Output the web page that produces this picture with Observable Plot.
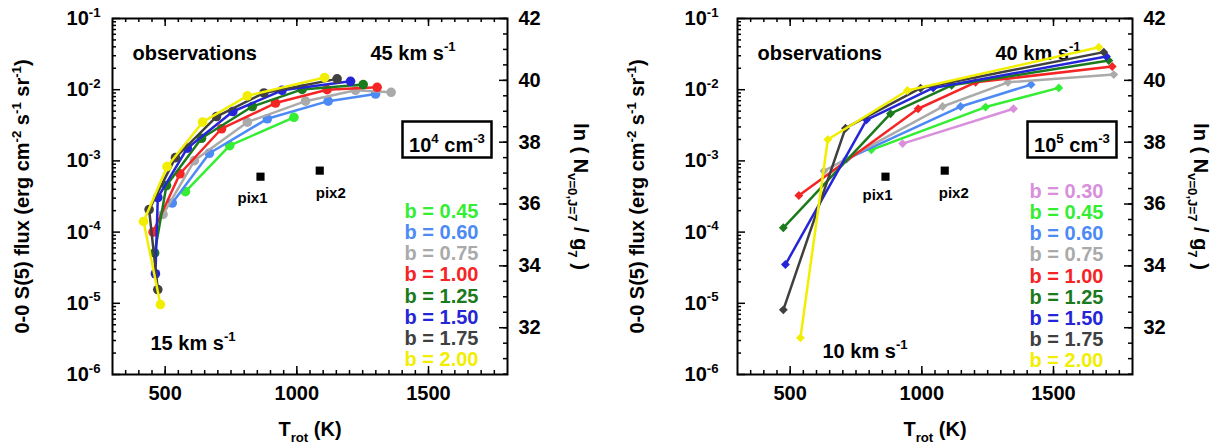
<!DOCTYPE html>
<html><head><meta charset="utf-8">
<script src="https://cdn.jsdelivr.net/npm/d3@7"></script>
<script src="https://cdn.jsdelivr.net/npm/@observablehq/plot@0.6"></script>
<style>
html,body{margin:0;padding:0;background:#fff;}
#wrap{display:flex;width:1224px;height:448px;overflow:hidden;}
svg text{font-family:"Liberation Sans",Arial,Helvetica,sans-serif;font-weight:bold;}
</style></head><body><div id="wrap"></div>
<script>
// ---------- data ----------
const bKeys   = ["0.30","0.45","0.60","0.75","1.00","1.25","1.50","1.75","2.00"];
const bColors = ["#d990dc","#33ee33","#4d8af5","#aaaaaa","#f52525","#1b7a1b","#2525d8","#404040","#f2ee00"];

const leftB    = ["0.45","0.60","0.75","1.00","1.25","1.50","1.75","2.00"];
const leftTrot = [
  [577, 745, 989],
  [527, 668, 888, 1119, 1299],
  [492, 611, 812, 1033, 1223, 1358],
  [454, 556, 714, 919, 1115, 1305],
  [460, 505, 638, 831, 1020, 1252],
  [463, 472, 584, 757, 944, 1204],
  [472, 439, 539, 695, 875, 1153],
  [482, 418, 507, 642, 812, 1105]
];
const leftFlux = [
  [3.7e-4, 1.64e-3, 4.1e-3],
  [2.56e-4, 1.28e-3, 3.9e-3, 6.9e-3, 8.7e-3],
  [1.77e-4, 1.01e-3, 3.5e-3, 6.9e-3, 9.8e-3, 9.2e-3],
  [1.0e-4, 6.6e-4, 2.83e-3, 6.5e-3, 1.0e-2, 1.08e-2],
  [5.1e-5, 4.5e-4, 2.08e-3, 5.8e-3, 1.01e-2, 1.18e-2],
  [2.6e-5, 3.06e-4, 1.51e-3, 4.94e-3, 9.8e-3, 1.31e-2],
  [1.56e-5, 2.07e-4, 1.11e-3, 4.2e-3, 9.0e-3, 1.42e-2],
  [9.6e-6, 1.41e-4, 8.3e-4, 3.5e-3, 8.2e-3, 1.48e-2]
];

const rightB    = ["0.30","0.45","0.60","0.75","1.00","1.25","1.50","1.75","2.00"];
const rightTrot = [
  [927, 1348],
  [808, 1242, 1520],
  [714, 1147, 1415],
  [628, 1079, 1327, 1729],
  [533, 986, 1204, 1723],
  [474, 881, 1113, 1710],
  [482, 790, 1043, 1701],
  [474, 710, 995, 1691],
  [539, 643, 945, 1672]
];
const rightFlux = [
  [1.75e-3, 5.4e-3],
  [1.43e-3, 5.7e-3, 1.06e-2],
  [1.06e-3, 5.8e-3, 1.18e-2],
  [7.2e-4, 5.8e-3, 1.27e-2, 1.63e-2],
  [3.27e-4, 5.4e-3, 1.27e-2, 2.12e-2],
  [1.15e-4, 4.6e-3, 1.15e-2, 2.57e-2],
  [3.5e-5, 3.78e-3, 1.06e-2, 2.92e-2],
  [8.1e-6, 2.88e-3, 1.05e-2, 3.37e-2],
  [3.27e-6, 2.0e-3, 9.75e-3, 3.95e-2]
];

const pixNames = ["pix1", "pix2"];
const pixTrot  = [862, 1087];
const pixFlux  = [6.0e-4, 7.3e-4];

const xMajorTicks  = [500, 1000, 1500];
const xMinorTicks  = d3.range(350, 1800, 50);
const yMajorTicks  = [1e-6, 1e-5, 1e-4, 1e-3, 1e-2, 1e-1];
const yMinorTicks  = [1e-6, 1e-5, 1e-4, 1e-3, 1e-2].flatMap(d => [2,3,4,5,6,7,8,9].map(k => k * d));
const lnMajorTicks = [32, 34, 36, 38, 40, 42];
const lnMinorTicks = d3.range(30.5, 42.01, 0.5);

// ---------- helpers ----------
const lnTop = 42;                       // ln(N/g) at flux 1e-1
const lnToFlux = L => 0.1 * Math.exp(L - lnTop);
const colorOf = b => bColors[bKeys.indexOf(b)];

const W = 395, H = 356;

function panel(o) {
  const marks = [
    Plot.ruleX(xMinorTicks, {x: d => d, insetTop: H - 4, strokeWidth: 1.5}),
    Plot.ruleX(xMinorTicks, {x: d => d, insetBottom: H - 4, strokeWidth: 1.5}),
    Plot.ruleX(xMajorTicks, {x: d => d, insetTop: H - 8, strokeWidth: 1.5}),
    Plot.ruleX(xMajorTicks, {x: d => d, insetBottom: H - 8, strokeWidth: 1.5}),
    Plot.ruleY(yMinorTicks, {y: d => d, insetRight: W - 4, strokeWidth: 1.5}),
    Plot.ruleY(yMajorTicks, {y: d => d, insetRight: W - 8, strokeWidth: 1.5}),
    Plot.ruleY(lnMinorTicks, {y: lnToFlux, insetLeft: W - 4, strokeWidth: 1.5}),
    Plot.ruleY(lnMajorTicks, {y: lnToFlux, insetLeft: W - 8, strokeWidth: 1.5}),
    Plot.frame({stroke: "black", strokeWidth: 2}),
    Plot.axisX({ticks: xMajorTicks, tickSize: 0, tickPadding: 11, fontSize: 20, label: null, tickFormat: d => String(d)}),
    Plot.axisY({anchor: "left", ticks: yMajorTicks, tickSize: 0, tickPadding: o.yPad, fontSize: 20, label: null,
                tickFormat: d => "10^{" + Math.round(Math.log10(d)) + "}"}),
    // right-hand ln(N/g) axis labels
    Plot.text(lnMajorTicks, {y: lnToFlux, text: d => String(d), frameAnchor: "right", textAnchor: "start", dx: 11, fontSize: 20}),
    Plot.text(["0-0 S(5) flux (erg cm^{-2} s^{-1} sr^{-1})"], {text: d => d, frameAnchor: "left", textAnchor: "middle", rotate: -90, dx: o.yTitleDx, fontSize: 20}),
    Plot.text(["ln ( N_{v=0,J=7} / g_{7} )"], {text: d => d, frameAnchor: "right", textAnchor: "middle", rotate: 90, dx: o.lnTitleDx, fontSize: 20}),
    Plot.text(["T_{rot} (K)"], {text: d => d, frameAnchor: "bottom", textAnchor: "middle", dy: 61, fontSize: 20}),
    Plot.text(["observations"], {text: d => d, frameAnchor: "top-left", textAnchor: "start", dx: 20, dy: 27, fontSize: 20}),
    Plot.text([o.topSpeed], {text: d => d, frameAnchor: "top-left", textAnchor: "start", dx: 258, dy: 27, fontSize: 20}),
    Plot.text([o.bottomSpeed], {text: d => d, frameAnchor: "top-left", textAnchor: "start", dx: o.bsDx, dy: o.bsDy, fontSize: 20}),
    Plot.frame({insetLeft: 290, insetRight: 16, insetTop: 103, insetBottom: H - 139, stroke: "black", strokeWidth: 2.5, fill: "white"}),
    Plot.text([o.density], {text: d => d, frameAnchor: "top-left", textAnchor: "middle", dx: 334.5, dy: 119, fontSize: 20})
  ];
  // legend
  o.bList.forEach((b, i) => {
    marks.push(Plot.text(["b = " + b], {text: d => d, frameAnchor: "top-left", textAnchor: "start",
      dx: 292, dy: o.legendTop + i * 21.2, fontSize: 20, fill: colorOf(b)}));
  });
  // series
  o.bList.forEach((b, i) => {
    const rows = o.T[i].map((t, j) => ({b, T: t, F: o.F[i][j]}));
    marks.push(Plot.line(rows, {x: "T", y: "F", stroke: colorOf(b), strokeWidth: 2.5}));
    marks.push(Plot.dot(rows, {x: "T", y: "F", fill: colorOf(b), stroke: "none", r: o.r, symbol: o.symbol}));
  });
  // pixels
  const pix = pixNames.map((n, i) => ({n, T: pixTrot[i], F: pixFlux[i]}));
  marks.push(Plot.dot(pix, {x: "T", y: "F", symbol: "square", r: 4.6, fill: "black", stroke: "none"}));
  marks.push(Plot.text([pix[0]], {x: "T", y: "F", text: "n", dx: o.p1dx, dy: o.p1dy, fontSize: 15}));
  marks.push(Plot.text([pix[1]], {x: "T", y: "F", text: "n", dx: o.p2dx, dy: o.p2dy, fontSize: 15}));

  return Plot.plot({
    width: 612, height: 448,
    marginLeft: o.ml, marginRight: 612 - o.ml - W, marginTop: 18, marginBottom: 448 - 18 - H,
    x: {domain: [300, 1800]},
    y: {type: "log", domain: [1e-6, 1e-1]},
    style: {fontFamily: "'Liberation Sans', Arial, sans-serif", fontWeight: "bold", background: "white", color: "black", overflow: "visible"},
    marks
  });
}

function richify(svg) {
  svg.querySelectorAll("text").forEach(t => {
    const s = t.textContent;
    if (!/[\^_]\{/.test(s)) return;
    const fs = parseFloat(getComputedStyle(t).fontSize) || 20;
    while (t.firstChild) t.removeChild(t.firstChild);
    const re = /([\^_])\{([^}]*)\}|([^\^_]+)/g;
    let m, off = 0;
    while ((m = re.exec(s))) {
      const ts = document.createElementNS("http://www.w3.org/2000/svg", "tspan");
      let target, size = null;
      if (m[3] !== undefined) { target = 0; ts.textContent = m[3]; }
      else { target = m[1] === "^" ? -0.42 * fs : 0.3 * fs; size = 0.66 * fs; ts.textContent = m[2]; }
      const dy = target - off; off = target;
      if (dy) ts.setAttribute("dy", dy);
      if (size) ts.setAttribute("font-size", size);
      t.appendChild(ts);
    }
  });
}

const wrap = document.getElementById("wrap");
const left = panel({
  bList: leftB, T: leftTrot, F: leftFlux, r: 4.8, symbol: "circle", ml: 112, yPad: 12,
  yTitleDx: -90, lnTitleDx: 73, topSpeed: "45 km s^{-1}", bottomSpeed: "15 km s^{-1}", bsDx: 38, bsDy: 317,
  density: "10^{4} cm^{-3}", legendTop: 185, p1dx: -8, p1dy: 21, p2dx: 11, p2dy: 23
});
const right = panel({
  bList: rightB, T: rightTrot, F: rightFlux, r: 4, symbol: "diamond2", ml: 125, yPad: 19,
  yTitleDx: -100, lnTitleDx: 68, topSpeed: "40 km s^{-1}", bottomSpeed: "10 km s^{-1}", bsDx: 85, bsDy: 325,
  density: "10^{5} cm^{-3}", legendTop: 165, p1dx: -8, p1dy: 18, p2dx: 9, p2dy: 23
});
wrap.appendChild(left);
wrap.appendChild(right);
richify(left);
richify(right);
</script>
</body></html>
